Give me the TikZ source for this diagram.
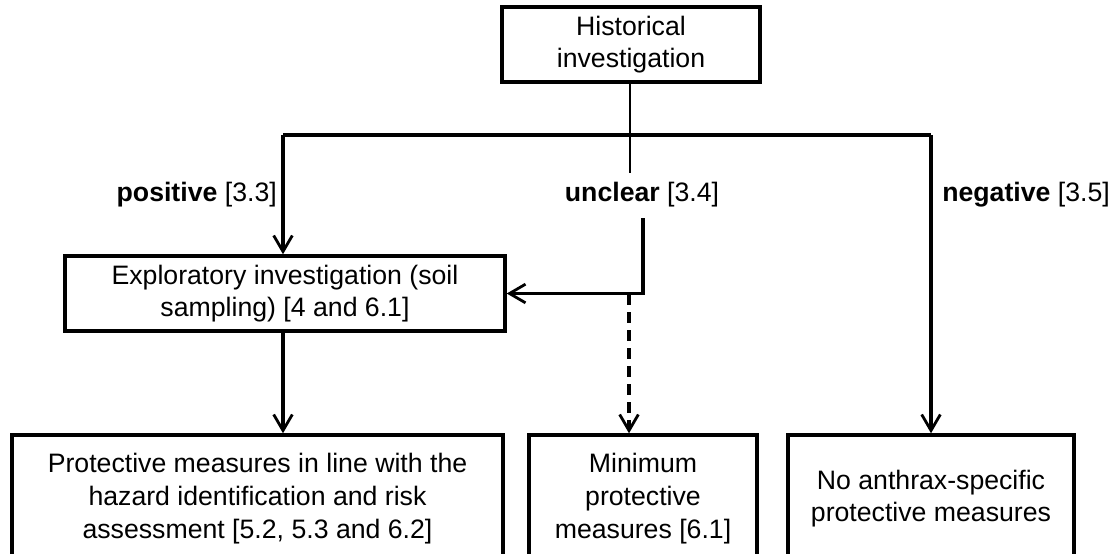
\documentclass[tikz,border=0pt]{standalone}
\usepackage{fontspec}
\setmainfont{Liberation Sans}
\usetikzlibrary{arrows.meta}
\begin{document}
\begin{tikzpicture}[x=0.75pt,y=-0.75pt,
  every node/.style={font=\fontsize{20}{24.5}\selectfont},
  boxnode/.style={draw=black,line width=2.6pt,align=center,inner sep=0pt},
  conn/.style={line width=2.3pt},
  thinconn/.style={line width=1.2pt},
  arr/.style={conn,-{Straight Barb[length=12pt,width=14pt,line width=2.1pt]}},
  dasharr/.style={arr,dash pattern=on 8pt off 5.5pt},
  lbl/.style={inner sep=0pt}]
\useasboundingbox (0,0) rectangle (1112,553);
\clip (0,0) rectangle (1112,553);
\node[boxnode,minimum width=193.5pt,minimum height=56.25pt] (hist) at (631,44.5) {Historical\\investigation};
\node[boxnode,minimum width=330pt,minimum height=56.25pt] (expl) at (285,293.5) {Exploratory investigation (soil\\sampling) [4 and 6.1]};
\node[boxnode,minimum width=368.25pt,minimum height=95.25pt] (pm) at (257.5,498.5) {Protective measures in line with the\\hazard identification and risk\\assessment [5.2, 5.3 and 6.2]};
\node[boxnode,minimum width=171pt,minimum height=95.25pt] (minpm) at (643,498.5) {Minimum\\protective\\measures [6.1]};
\node[boxnode,minimum width=214.5pt,minimum height=95.25pt] (nopm) at (931,498.5) {No anthrax-specific\\protective measures};
\node[lbl,anchor=east] (lpos) at (277,195) {\textbf{positive} [3.3]};
\node[lbl] (lunc) at (642,195) {\textbf{unclear} [3.4]};
\node[lbl,anchor=west] (lneg) at (942,195) {\textbf{negative} [3.5]};
\coordinate (hL) at (283,135);
\coordinate (hR) at (931,135);
\coordinate (hEnd) at (630,173);
\coordinate (uT) at (643,218);
\coordinate (dT) at (629,294);
\draw[thinconn] (hist.south -| hEnd) -- (hEnd);
\draw[conn] (hL) -- (hR);
\draw[arr] (hL) -- (hL |- expl.north);
\draw[arr] (hR) -- (nopm.north);
\draw[arr] (uT) |- (expl.east);
\draw[dasharr] (dT) -- (dT |- minpm.north);
\draw[arr] (hL |- expl.south) -- (hL |- pm.north);
\end{tikzpicture}
\end{document}
